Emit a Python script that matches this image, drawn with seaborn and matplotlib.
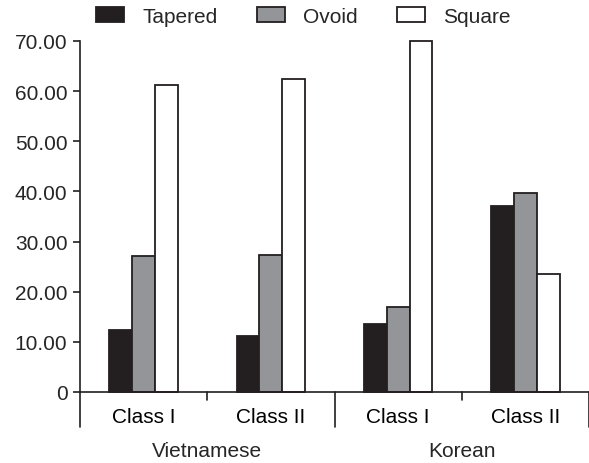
import pandas as pd
import seaborn as sns
import matplotlib.pyplot as plt
from matplotlib.ticker import FuncFormatter
from matplotlib.transforms import blended_transform_factory

# values (percent)
groups = ['Vietnamese', 'Vietnamese', 'Korean', 'Korean']
classes = ['Class I', 'Class II', 'Class I', 'Class II']
tapered = [12.3, 11.1, 13.6, 37.0]
ovoid = [27.1, 27.3, 16.9, 39.7]
square = [61.3, 62.5, 70.0, 23.5]
shapes = ['Tapered', 'Ovoid', 'Square']
colors = ['#231f20', '#939598', '#ffffff']
yticks = [0, 10, 20, 30, 40, 50, 60, 70]

rows = []
for i in range(len(classes)):
    for s, v in zip(shapes, [tapered[i], ovoid[i], square[i]]):
        rows.append({'slot': groups[i] + ' ' + classes[i], 'shape': s, 'pct': v})
df = pd.DataFrame(rows)
order = [g + ' ' + c for g, c in zip(groups, classes)]

sns.set_style('ticks')
plt.rcParams['font.family'] = ['Liberation Sans', 'DejaVu Sans']
ink = '#231f20'

fig = plt.figure(figsize=(5.89, 4.64), dpi=100)
ax = fig.add_axes([80 / 589, 1 - 393 / 464, 509 / 589, 351 / 464])

sns.barplot(data=df, x='slot', y='pct', hue='shape', order=order,
            hue_order=shapes, palette=colors, saturation=1, width=0.54,
            edgecolor=ink, linewidth=1.3, ax=ax)

ax.set_xlim(-0.5, 3.5)
ax.set_ylim(0, 70)
ax.set_yticks(yticks)
ax.yaxis.set_major_formatter(FuncFormatter(lambda v, p: '0' if v == 0 else f'{v:.2f}'))
ax.set_xticks(range(len(classes)))
ax.set_xticklabels(classes)
ax.tick_params(axis='x', length=0, pad=11, labelsize=15, colors='black')
ax.tick_params(axis='y', length=5, width=1.2, color=ink, labelsize=15, pad=4)
ax.set_xlabel('')
ax.set_ylabel('')
for p in ax.patches:
    p.set_clip_on(False)

sns.despine(ax=ax)
for sp in ['left', 'bottom']:
    ax.spines[sp].set_linewidth(1.2)
    ax.spines[sp].set_color(ink)

# category separators below the axis
tr = blended_transform_factory(ax.transData, ax.transAxes)
for x in [-0.5, 1.5, 3.5]:
    ax.plot([x, x], [0, -0.1], color=ink, lw=1.2, transform=tr, clip_on=False)
for x in [0.5, 2.5]:
    ax.plot([x, x], [0, -0.022], color=ink, lw=1.2, transform=tr, clip_on=False)

ax.text(0.5, -0.168, 'Vietnamese', transform=tr, ha='center', va='center', fontsize=15)
ax.text(2.5, -0.168, 'Korean', transform=tr, ha='center', va='center', fontsize=15)

sns.move_legend(ax, 'center', bbox_to_anchor=(0.515, 0.963),
                bbox_transform=fig.transFigure, ncol=3, frameon=False,
                title=None, fontsize=15, handlelength=1.35, handleheight=0.75,
                handletextpad=0.85, columnspacing=1.9)

fig.savefig('out.png', dpi=100)
